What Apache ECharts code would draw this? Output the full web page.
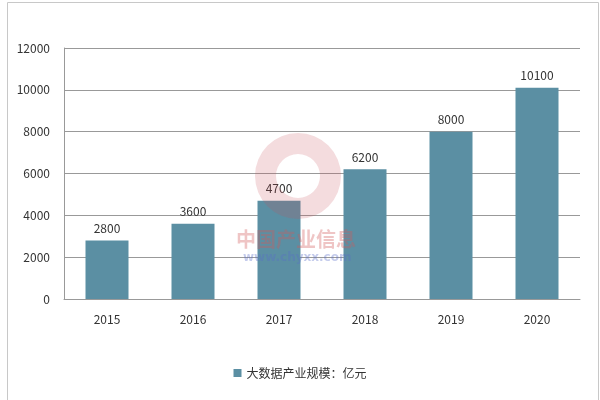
<!DOCTYPE html>
<html><head><meta charset="utf-8">
<script src="https://cdn.jsdelivr.net/npm/echarts@6/dist/echarts.min.js"></script>
<style>html,body{margin:0;padding:0;background:#fff}#c{width:600px;height:400px}</style>
</head><body><div id="c"></div>
<script>
const categories = ['2015','2016','2017','2018','2019','2020'];
const values = [2800, 3600, 4700, 6200, 8000, 10100];
const seriesName = '大数据产业规模：亿元';
const chart = echarts.init(document.getElementById('c'));
chart.setOption({
  animation:false,
  backgroundColor:'#fff',
  textStyle:{fontFamily:'"Noto Sans CJK SC","DejaVu Sans",sans-serif'},
  graphic:[
    {type:'rect',left:5,top:0,shape:{width:591,height:399},style:{fill:'none',stroke:'#c8c8c8',lineWidth:1},z:-1},
    {type:'ring',left:255,top:133,shape:{r:43,r0:22},style:{fill:'rgba(200,80,90,0.2)'},z:100},
    {type:'text',left:236,top:229,style:{text:'中国产业信息',fill:'rgba(210,90,90,0.35)',font:'bold 20px "Noto Sans CJK SC"'},z:100},
    {type:'text',left:243,top:252,style:{text:'www.chyxx.com',fill:'rgba(90,110,200,0.35)',font:'bold 12px "DejaVu Sans"'},z:100}
  ],
  grid:{left:64,right:20,top:48,bottom:101},
  legend:{bottom:16,left:'center',itemWidth:8,itemHeight:8,itemGap:4,icon:'rect',
    textStyle:{fontSize:12,color:'#333'},data:[seriesName]},
  xAxis:{type:'category',data:categories,
    axisLine:{lineStyle:{color:'#999'}},axisTick:{show:false},
    axisLabel:{color:'#333',fontSize:12,margin:14}},
  yAxis:{type:'value',min:0,max:12000,interval:2000,
    axisLine:{show:true,lineStyle:{color:'#999'}},axisTick:{show:false},
    splitLine:{lineStyle:{color:'#999'}},
    axisLabel:{color:'#333',fontSize:12,margin:14,formatter:v=>String(v)}},
  series:[{name:seriesName,type:'bar',data:values,barWidth:'50%',
    itemStyle:{color:'#5b8fa3'},
    label:{show:true,position:'top',color:'#333',fontSize:12,distance:6}}]
});
</script></body></html>
